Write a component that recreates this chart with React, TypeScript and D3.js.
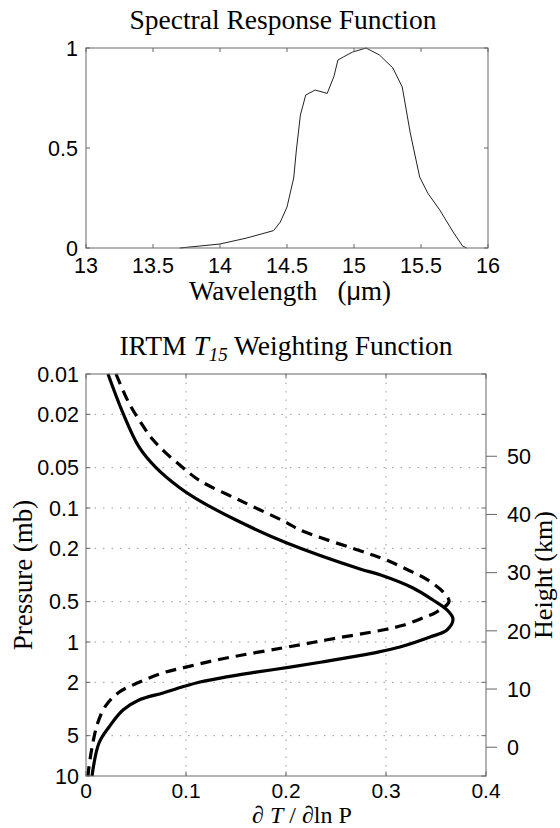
import React, { useRef, useEffect } from "react";
import * as d3 from "d3";

// spectral response (top panel)
const wavelength = [13.7, 13.85, 14.0, 14.2, 14.4, 14.45, 14.5, 14.55, 14.57, 14.6, 14.64, 14.71, 14.8, 14.85, 14.88, 14.92, 14.99, 15.09, 15.19, 15.29, 15.36, 15.42, 15.49, 15.55, 15.64, 15.74, 15.81, 15.84];
const response = [0, 0.01, 0.02, 0.05, 0.087, 0.13, 0.205, 0.35, 0.49, 0.665, 0.765, 0.79, 0.773, 0.857, 0.94, 0.955, 0.98, 1.0, 0.965, 0.9, 0.805, 0.575, 0.355, 0.275, 0.19, 0.08, 0.01, 0];

// weighting functions (bottom panel)
const solidPressure = [0.01, 0.0196, 0.035, 0.05, 0.07, 0.085, 0.123, 0.18, 0.285, 0.315, 0.395, 0.486, 0.576, 0.673, 0.813, 0.918, 1.09, 1.19, 1.29, 1.41, 1.54, 1.68, 1.83, 1.99, 2.17, 2.4, 2.71, 3.22, 4.31, 5.67, 10];
const solidWeight = [0.022, 0.037, 0.053, 0.07, 0.093, 0.11, 0.15, 0.199, 0.274, 0.294, 0.327, 0.347, 0.361, 0.367, 0.361, 0.344, 0.314, 0.292, 0.266, 0.236, 0.204, 0.17, 0.139, 0.114, 0.096, 0.077, 0.053, 0.037, 0.023, 0.013, 0.006];
const dashPressure = [0.01, 0.0165, 0.0232, 0.031, 0.0389, 0.05, 0.062, 0.09, 0.129, 0.146, 0.217, 0.244, 0.29, 0.345, 0.43, 0.5, 0.6, 0.66, 0.75, 0.81, 0.966, 1.05, 1.35, 1.54, 1.7, 2.0, 2.37, 2.97, 3.96, 5.6, 8.5, 10];
const dashWeight = [0.03, 0.043, 0.055, 0.067, 0.08, 0.097, 0.113, 0.157, 0.201, 0.214, 0.281, 0.3, 0.322, 0.342, 0.358, 0.363, 0.35, 0.337, 0.317, 0.298, 0.24, 0.214, 0.133, 0.1, 0.077, 0.053, 0.033, 0.02, 0.012, 0.007, 0.003, 0.002];

const wlTicks = [13, 13.5, 14, 14.5, 15, 15.5, 16];
const respTicks = [0, 0.5, 1];
const pTicks = [0.01, 0.02, 0.05, 0.1, 0.2, 0.5, 1, 2, 5, 10];
const pTickLabels = ["0.01", "0.02", "0.05", "0.1", "0.2", "0.5", "1", "2", "5", "10"];
const wTicks = [0, 0.1, 0.2, 0.3, 0.4];
const hTicks = [0, 10, 20, 30, 40, 50];

// height axis: z = H ln(P0 / P)
const SCALE_H = 10;
const SURFACE_P = 6.1;

const SERIF = "'Liberation Serif', 'Times New Roman', serif";
const SANS = "'Liberation Sans', Arial, Helvetica, sans-serif";
const AXIS = "#666";

const App = () => {
  const svgRef = useRef(null);

  useEffect(() => {
    const svg = d3.select(svgRef.current);
    svg.selectAll("*").remove();

    // ---------- top panel ----------
    const t = { left: 86, right: 488, top: 48, bottom: 248 };
    const x1 = d3.scaleLinear().domain([13, 16]).range([t.left, t.right]);
    const y1 = d3.scaleLinear().domain([0, 1]).range([t.bottom, t.top]);

    const g1 = svg.append("g");
    g1.append("text")
      .attr("x", 283).attr("y", 29)
      .attr("text-anchor", "middle")
      .attr("font-family", SERIF).attr("font-size", 27.5)
      .text("Spectral Response Function");

    g1.append("path")
      .datum(wavelength.map((w, i) => [w, response[i]]))
      .attr("fill", "none").attr("stroke", "#222").attr("stroke-width", 1)
      .attr("d", d3.line().x((d) => x1(d[0])).y((d) => y1(d[1])));

    g1.append("rect")
      .attr("x", t.left).attr("y", t.top)
      .attr("width", t.right - t.left).attr("height", t.bottom - t.top)
      .attr("fill", "none").attr("stroke", AXIS);

    wlTicks.forEach((v) => {
      g1.append("line").attr("x1", x1(v)).attr("x2", x1(v)).attr("y1", t.bottom).attr("y2", t.bottom - 4).attr("stroke", AXIS);
      g1.append("line").attr("x1", x1(v)).attr("x2", x1(v)).attr("y1", t.top).attr("y2", t.top + 4).attr("stroke", AXIS);
      g1.append("text")
        .attr("x", x1(v)).attr("y", t.bottom + 25)
        .attr("text-anchor", "middle")
        .attr("font-family", SANS).attr("font-size", 21.5)
        .text(String(v));
    });
    respTicks.forEach((v) => {
      g1.append("line").attr("x1", t.left).attr("x2", t.left + 4).attr("y1", y1(v)).attr("y2", y1(v)).attr("stroke", AXIS);
      g1.append("line").attr("x1", t.right).attr("x2", t.right - 4).attr("y1", y1(v)).attr("y2", y1(v)).attr("stroke", AXIS);
      g1.append("text")
        .attr("x", t.left - 8).attr("y", y1(v)).attr("dy", "0.36em")
        .attr("text-anchor", "end")
        .attr("font-family", SANS).attr("font-size", 21.5)
        .text(String(v));
    });

    const wl = g1.append("text")
      .attr("x", (t.left + t.right) / 2 + 3).attr("y", 300)
      .attr("text-anchor", "middle")
      .attr("font-family", SERIF).attr("font-size", 27)
      .style("white-space", "pre");
    wl.append("tspan").text("Wavelength   (");
    wl.append("tspan").attr("font-family", SANS).attr("font-size", 25).text("\u03bc");
    wl.append("tspan").text("m)");

    // ---------- bottom panel ----------
    const b = { left: 86, right: 486, top: 374, bottom: 776 };
    const x2 = d3.scaleLinear().domain([0, 0.4]).range([b.left, b.right]);
    const y2 = d3.scaleLog().domain([0.01, 10]).range([b.top, b.bottom]);
    const yH = d3.scaleLinear()
      .domain([SCALE_H * Math.log(SURFACE_P / 10), SCALE_H * Math.log(SURFACE_P / 0.01)])
      .range([b.bottom, b.top]);

    const g2 = svg.append("g");
    const title = g2.append("text")
      .attr("x", (b.left + b.right) / 2).attr("y", 355)
      .attr("text-anchor", "middle")
      .attr("font-family", SERIF).attr("font-size", 27.5);
    title.append("tspan").text("IRTM ");
    title.append("tspan").attr("font-style", "italic").text("T");
    title.append("tspan").attr("font-style", "italic").attr("font-size", 19).attr("dy", 6).text("15");
    title.append("tspan").attr("dy", -6).text(" Weighting Function");

    // grid
    wTicks.slice(1, -1).forEach((v) => {
      g2.append("line").attr("x1", x2(v)).attr("x2", x2(v)).attr("y1", b.top).attr("y2", b.bottom)
        .attr("stroke", "#999").attr("stroke-width", 1).attr("stroke-dasharray", "1.5,7");
    });
    pTicks.slice(1, -1).forEach((v) => {
      g2.append("line").attr("x1", b.left).attr("x2", b.right).attr("y1", y2(v)).attr("y2", y2(v))
        .attr("stroke", "#999").attr("stroke-width", 1).attr("stroke-dasharray", "1.5,7");
    });

    const curve = d3.line()
      .x((d) => x2(d[0])).y((d) => y2(d[1]))
      .curve(d3.curveCatmullRom.alpha(0.5));

    g2.append("path")
      .datum(dashWeight.map((w, i) => [w, dashPressure[i]]))
      .attr("fill", "none").attr("stroke", "#000").attr("stroke-width", 3.2)
      .attr("stroke-dasharray", "11,7")
      .attr("d", curve);
    g2.append("path")
      .datum(solidWeight.map((w, i) => [w, solidPressure[i]]))
      .attr("fill", "none").attr("stroke", "#000").attr("stroke-width", 3.2)
      .attr("d", curve);

    g2.append("rect")
      .attr("x", b.left).attr("y", b.top)
      .attr("width", b.right - b.left).attr("height", b.bottom - b.top)
      .attr("fill", "none").attr("stroke", AXIS);

    wTicks.forEach((v) => {
      g2.append("line").attr("x1", x2(v)).attr("x2", x2(v)).attr("y1", b.bottom).attr("y2", b.bottom - 4.5).attr("stroke", AXIS);
      g2.append("line").attr("x1", x2(v)).attr("x2", x2(v)).attr("y1", b.top).attr("y2", b.top + 4.5).attr("stroke", AXIS);
      g2.append("text")
        .attr("x", x2(v)).attr("y", b.bottom + 21.5)
        .attr("text-anchor", "middle")
        .attr("font-family", SANS).attr("font-size", 21)
        .text(String(v));
    });
    pTicks.forEach((v, i) => {
      g2.append("line").attr("x1", b.left).attr("x2", b.left + 4.5).attr("y1", y2(v)).attr("y2", y2(v)).attr("stroke", AXIS);
      g2.append("line").attr("x1", b.right).attr("x2", b.right - 4.5).attr("y1", y2(v)).attr("y2", y2(v)).attr("stroke", AXIS);
      g2.append("text")
        .attr("x", b.left - 7).attr("y", y2(v)).attr("dy", "0.36em")
        .attr("text-anchor", "end")
        .attr("font-family", SANS).attr("font-size", 21.5)
        .text(pTickLabels[i]);
    });
    hTicks.forEach((v) => {
      g2.append("line").attr("x1", b.right).attr("x2", b.right + 11).attr("y1", yH(v)).attr("y2", yH(v)).attr("stroke", AXIS);
      g2.append("text")
        .attr("x", b.right + 21).attr("y", yH(v)).attr("dy", "0.36em")
        .attr("font-family", SANS).attr("font-size", 21.5)
        .text(String(v));
    });

    g2.append("text")
      .attr("transform", `translate(32,${(b.top + b.bottom) / 2}) rotate(-90)`)
      .attr("text-anchor", "middle")
      .attr("font-family", SERIF).attr("font-size", 27)
      .text("Pressure (mb)");
    g2.append("text")
      .attr("transform", `translate(552,${(b.top + b.bottom) / 2}) rotate(-90)`)
      .attr("text-anchor", "middle")
      .attr("font-family", SERIF).attr("font-size", 26)
      .text("Height (km)");

    const xl = g2.append("text")
      .attr("x", 302).attr("y", 822.5)
      .attr("text-anchor", "middle")
      .attr("font-family", SERIF).attr("font-size", 24);
    xl.append("tspan").text("\u2202 ");
    xl.append("tspan").attr("font-style", "italic").text("T");
    xl.append("tspan").text(" / \u2202ln P");

    return () => {};
  }, []);

  return (
    <svg
      ref={svgRef}
      width={560}
      height={828}
      style={{ position: "absolute", left: 0, top: 0, background: "#fff" }}
    />
  );
};

export default App;
